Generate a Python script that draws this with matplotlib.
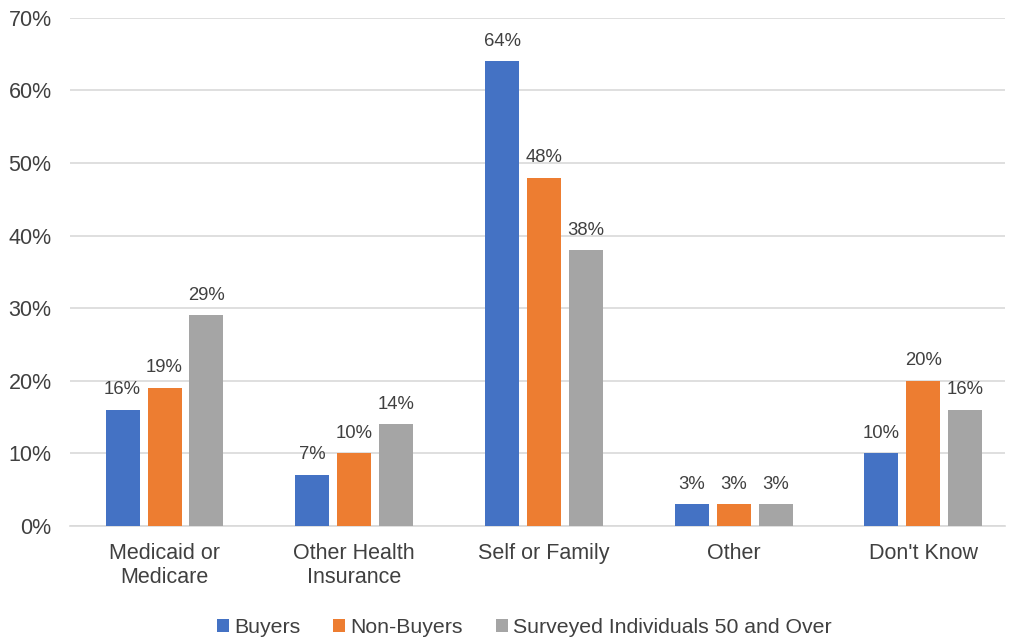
import numpy as np
import matplotlib
matplotlib.use("Agg")
import matplotlib.pyplot as plt

plt.rcParams['font.family'] = ['Liberation Sans', 'DejaVu Sans']

categories = ["Medicaid or\nMedicare", "Other Health\nInsurance", "Self or Family", "Other", "Don't Know"]
buyers = [16, 7, 64, 3, 10]
non_buyers = [19, 10, 48, 3, 20]
surveyed = [29, 14, 38, 3, 16]
series_names = ["Buyers", "Non-Buyers", "Surveyed Individuals 50 and Over"]
colors = ["#4472C4", "#ED7D31", "#A5A5A5"]

fig = plt.figure(figsize=(10.1, 6.39), dpi=100)
ax = fig.add_axes([0.069, 0.177, 0.926, 0.795])

x = np.arange(len(categories))
w = 0.179
step = 0.221
for i, (vals, name, c) in enumerate(zip([buyers, non_buyers, surveyed], series_names, colors)):
    pos = x + (i - 1) * step
    ax.bar(pos, vals, width=w, color=c, label=name, zorder=3)
    for p, v in zip(pos, vals):
        ax.text(p, v + 1.6, f"{v}%", ha='center', va='bottom', fontsize=13.3, color='#404040')

ax.set_xlim(-0.5, 4.43)
ax.set_ylim(0, 70)
ax.set_yticks(range(0, 71, 10))
ax.set_yticklabels([f"{t}%" for t in range(0, 71, 10)])
ax.set_xticks(x)
ax.set_xticklabels(categories)
ax.tick_params(axis='both', length=0, labelsize=15.5, colors='#404040')
ax.tick_params(axis='x', pad=12)
ax.tick_params(axis='y', pad=13)
ax.grid(axis='y', color='#D9D9D9', linewidth=1.2, zorder=0)
for s in ['top', 'right', 'left']:
    ax.spines[s].set_visible(False)
ax.spines['bottom'].set_color('#D9D9D9')
ax.spines['bottom'].set_linewidth(1.2)

fig.legend(loc='center', bbox_to_anchor=(0.519, 0.018), ncol=3, frameon=False,
           fontsize=15.3, handlelength=0.56, handleheight=0.56, handletextpad=0.25,
           columnspacing=1.55, labelcolor='#404040', borderpad=0)

fig.savefig("out.png", dpi=100)
